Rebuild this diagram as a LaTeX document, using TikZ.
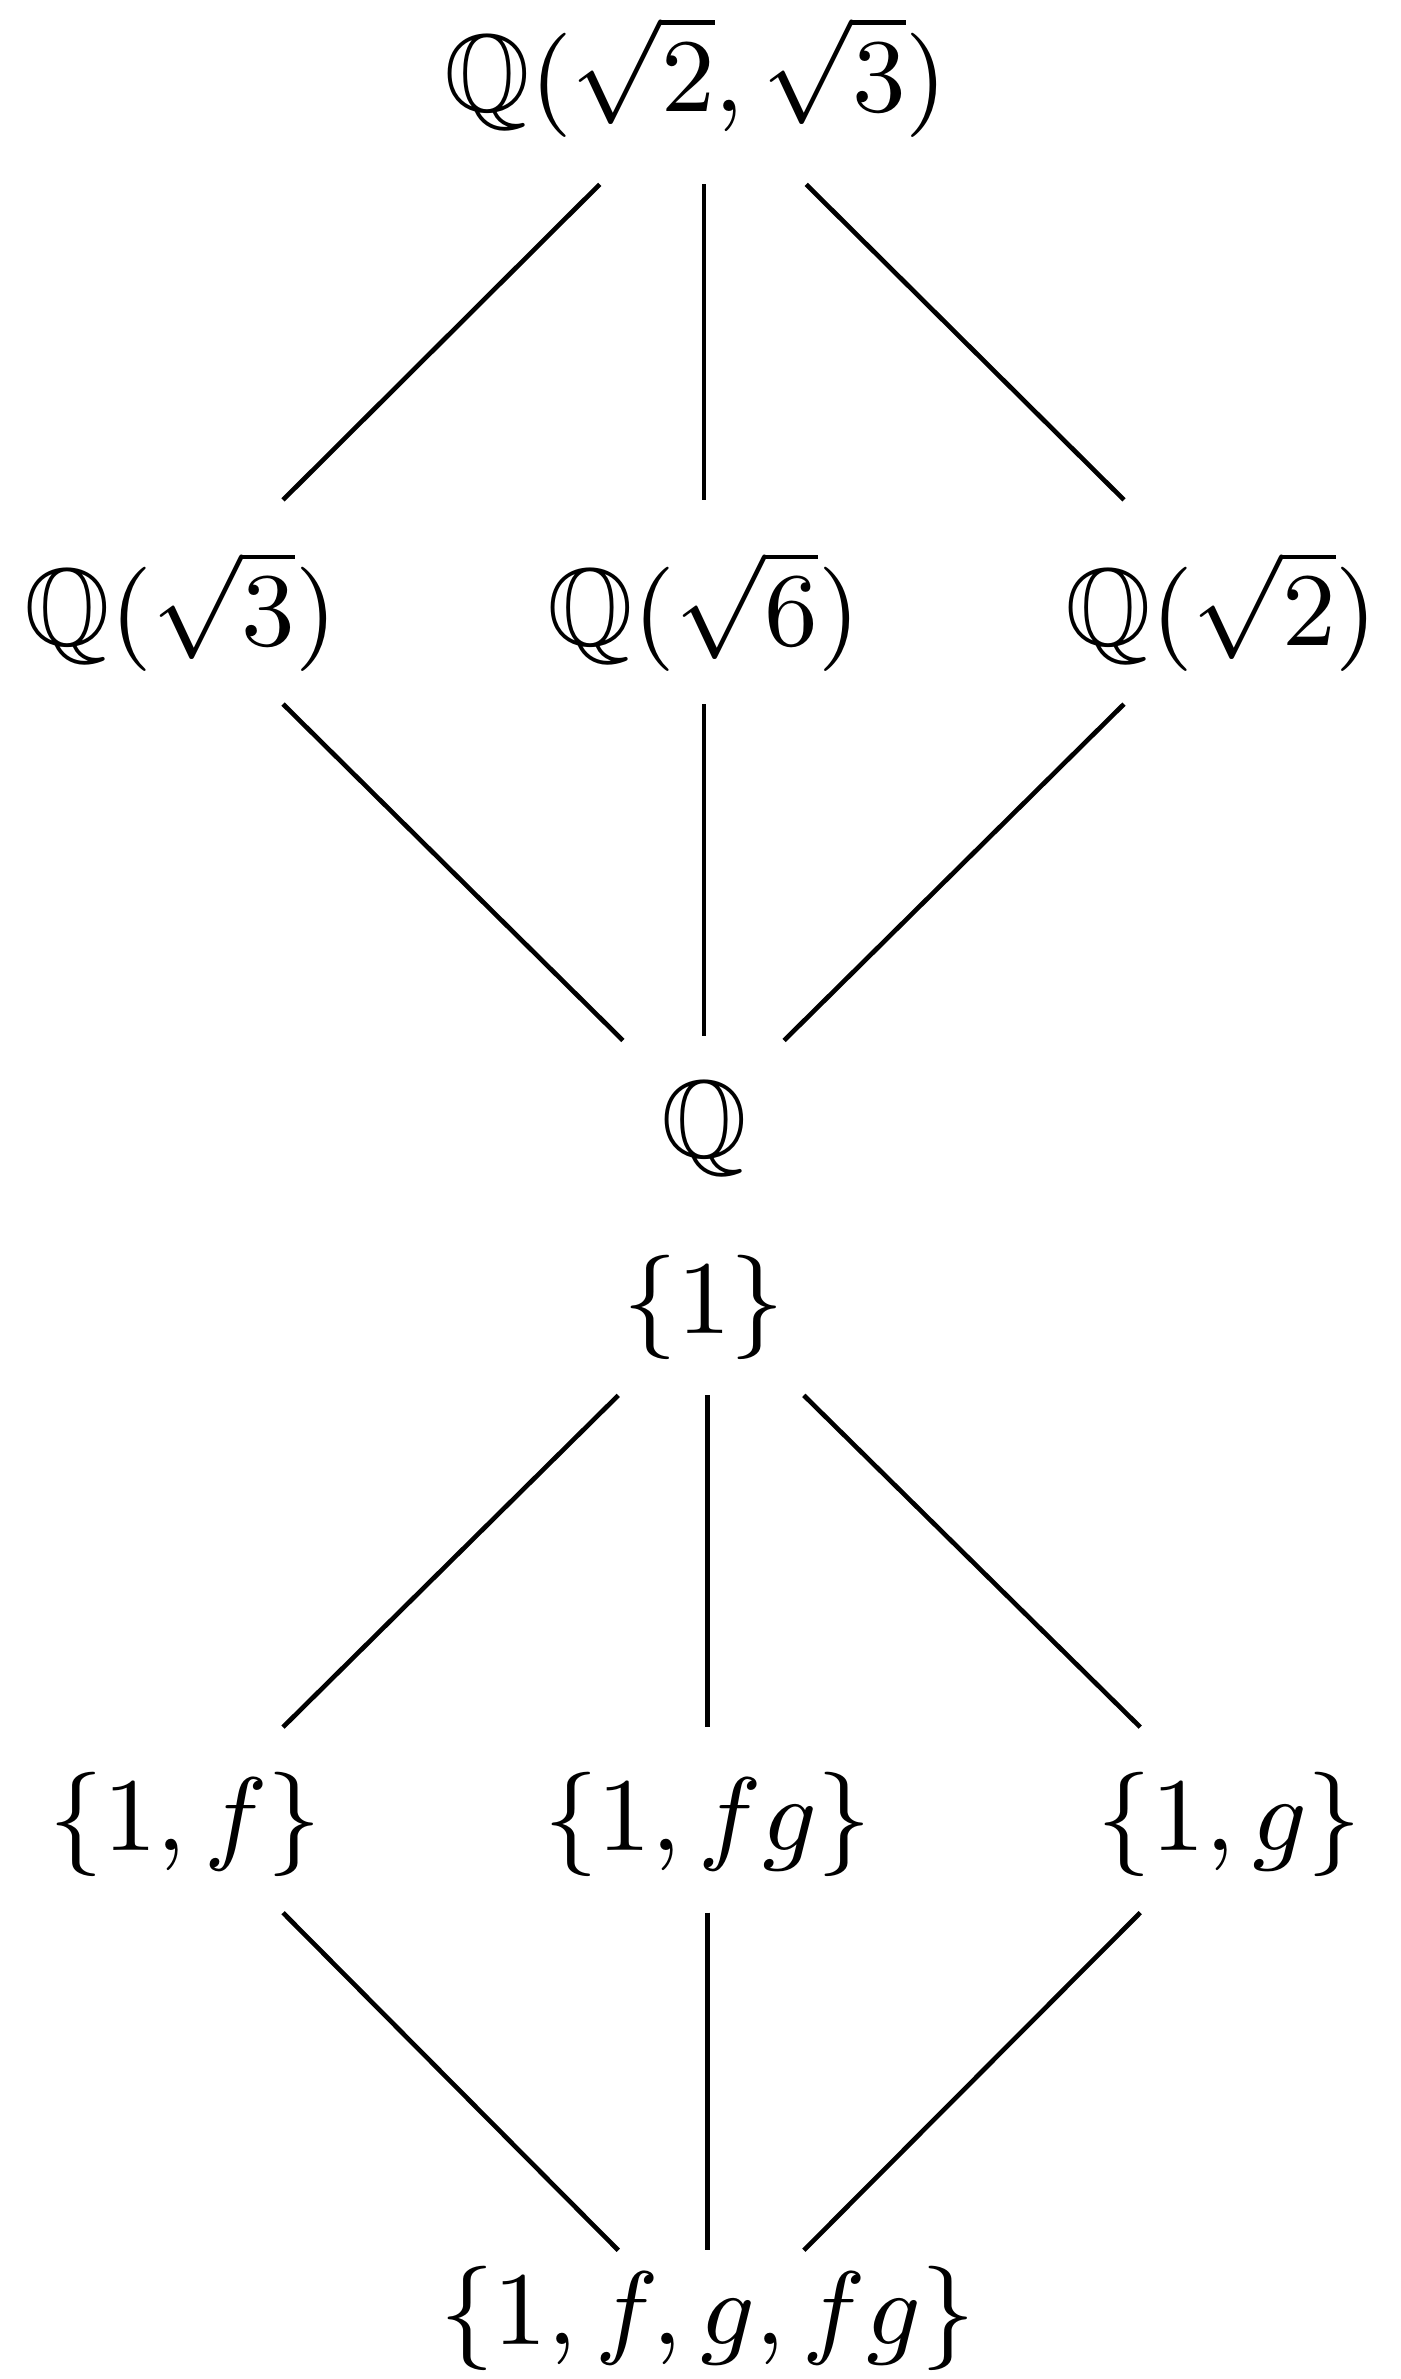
\documentclass[tikz,border=0pt]{standalone}
\usepackage{amsmath}
\usepackage{amssymb}

\begin{document}
\fontsize{9.5}{11}\selectfont
\begin{tikzpicture}[x=1pt,y=1pt]
	\useasboundingbox (0,0) rectangle (120.7,-205.1);
	\node[inner sep=0] (top) at (60,-6.6) {$\mathbb{Q}(\sqrt{2},\sqrt{3})$};
	\node[inner sep=0] (q3) at (15.6,-52.7) {$\mathbb{Q}(\sqrt{3})$};
	\node[inner sep=0] (q6) at (60.7,-52.7) {$\mathbb{Q}(\sqrt{6})$};
	\node[inner sep=0] (q2) at (105.3,-52.7) {$\mathbb{Q}(\sqrt{2})$};
	\node[inner sep=0] (q) at (60.7,-97.3) {$\mathbb{Q}$};
	\node[inner sep=0] (one) at (60.7,-112.7) {$\{1\}$};
	\node[inner sep=0] (f) at (16,-157.3) {$\{1,f\}$};
	\node[inner sep=0] (fg) at (61,-157.3) {$\{1,fg\}$};
	\node[inner sep=0] (g) at (106,-157.3) {$\{1,g\}$};
	\node[inner sep=0] (all) at (61,-199.9) {$\{1,f,g,fg\}$};
	
	\draw ([shift={(-8.3,-9.3)}]top.center) -- ([shift={(8.8,9.6)}]q3.center);
	\draw ([shift={(0.7,-9.3)}]top.center) -- ([shift={(0,9.6)}]q6.center);
	\draw ([shift={(9.5,-9.3)}]top.center) -- ([shift={(-8.4,9.6)}]q2.center);
	\draw ([shift={(8.8,-8)}]q3.center) -- ([shift={(-7,7.6)}]q.center);
	\draw ([shift={(0,-8)}]q6.center) -- ([shift={(0,8)}]q.center);
	\draw ([shift={(-8.4,-8)}]q2.center) -- ([shift={(6.9,7.6)}]q.center);
	\draw ([shift={(-7.4,-7.6)}]one.center) -- ([shift={(8.4,8.4)}]f.center);
	\draw ([shift={(0.3,-7.6)}]one.center) -- ([shift={(0,8.4)}]fg.center);
	\draw ([shift={(8.6,-7.6)}]one.center) -- ([shift={(-7.7,8.4)}]g.center);
	\draw ([shift={(8.4,-7.6)}]f.center) -- ([shift={(-7.7,5.9)}]all.center);
	\draw ([shift={(0,-7.6)}]fg.center) -- ([shift={(0,5.9)}]all.center);
	\draw ([shift={(-7.7,-7.6)}]g.center) -- ([shift={(8.3,5.9)}]all.center);
\end{tikzpicture}
\end{document}
